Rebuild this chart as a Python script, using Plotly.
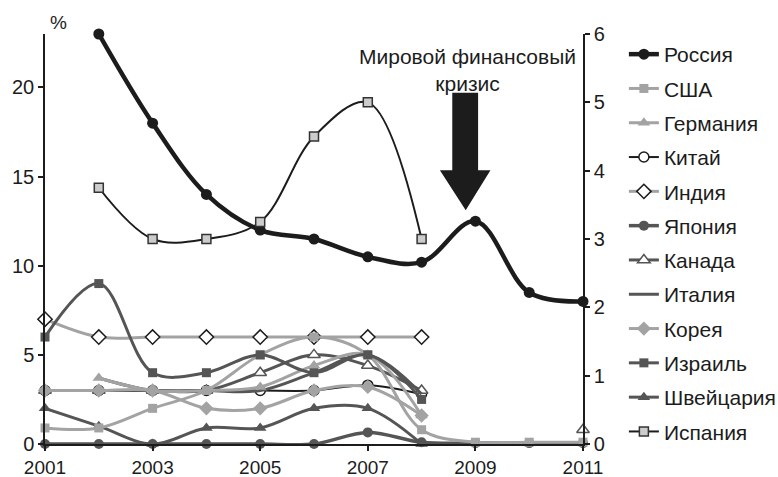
import plotly.graph_objects as go

# Years on the horizontal axis
years = list(range(2001, 2012))

# Left axis, %
russia = [None, 23, 18, 14, 12, 11.5, 10.5, 10.2, 12.5, 8.5, 8]
usa = [0.9, 0.9, 2, 3, 5, 6, 5, 0.8, 0.1, 0.1, 0.1]
germany = [None, 3.7, 3, 3, 3.2, 4.4, 5, 1.6, None, None, None]
china = [3, 3, 3, 3, 3, 3, 3.3, 2.8, None, None, None]
india = [7, 6, 6, 6, 6, 6, 6, 6, None, None, None]
japan = [0, 0, 0, 0, 0, 0, 0.65, 0.1, 0.05, 0.05, 0.05]
canada = [3, 3, 3, 3, 4, 5, 4.4, 3, None, None, 0.8]
italy = [None, 3.7, 3, 3, 3, 4, 5, 2.8, None, None, None]
korea = [3, 3, 3, 2, 2, 3, 3.2, 1.6, None, None, None]
israel = [6, 9, 4, 4, 5, 4, 5, 2.5, None, None, None]
switzerland = [2, 1, 0, 0.9, 0.9, 2, 2, 0, None, None, None]

# Right axis
spain = [None, 3.75, 3.0, 3.0, 3.25, 4.5, 5.0, 3.0, None, None, None]

left_ticks = [0, 5, 10, 15, 20]
right_ticks = [0, 1, 2, 3, 4, 5, 6]
year_ticks = [2001, 2003, 2005, 2007, 2009, 2011]

FONT = "Liberation Sans, Arial, sans-serif"
BLACK = "#1c1c1c"
DARK = "#555555"
LIGHT = "#a3a3a3"

fig = go.Figure()


def add(name, values, color, width, symbol=None, mfill=None, mline=None,
        msize=11, yaxis="y"):
    mode = "lines+markers" if symbol else "lines"
    marker = None
    if symbol:
        marker = dict(symbol=symbol, size=msize, color=mfill or color,
                      line=dict(color=mline or color, width=1.5 if mline else 0))
    fig.add_trace(go.Scatter(
        x=years, y=values, name=name, mode=mode, yaxis=yaxis,
        legendgroup=name, cliponaxis=False,
        line=dict(color=color, width=width, shape="spline"),
        marker=marker,
    ))


add("Китай", china, BLACK, 2, "circle", "white", BLACK, 10)
add("Индия", india, LIGHT, 3, "diamond", "white", BLACK, 11)
add("Япония", japan, DARK, 3.5, "circle", DARK, None, 10)
add("Канада", canada, DARK, 3, "triangle-up", "white", DARK, 11)
add("Италия", italy, DARK, 3)
add("Корея", korea, LIGHT, 3, "diamond", LIGHT, None, 11)
add("Германия", germany, LIGHT, 3, "triangle-up", LIGHT, None, 11)
add("Швейцария", switzerland, DARK, 3, "triangle-up", DARK, None, 11)
add("США", usa, LIGHT, 3, "square", LIGHT, None, 9)
add("Израиль", israel, DARK, 3, "square", DARK, None, 9)
add("Россия", russia, BLACK, 4.5, "circle", BLACK, None, 11)
add("Испания", spain, BLACK, 2, "square", "#cccccc", "#333333", 9, yaxis="y2")

legend_order = ["Россия", "США", "Германия", "Китай", "Индия", "Япония",
                "Канада", "Италия", "Корея", "Израиль", "Швейцария", "Испания"]
for tr in fig.data:
    tr.legendrank = legend_order.index(tr.name) + 1

axis_common = dict(
    showline=True, linecolor=BLACK, linewidth=1.5, ticks="outside",
    ticklen=5, tickwidth=1.5, tickcolor=BLACK, showgrid=False,
    zeroline=False, tickfont=dict(family=FONT, size=20, color=BLACK),
)

fig.update_layout(
    width=778, height=477,
    margin=dict(l=45, r=195, t=34, b=33, autoexpand=False),
    paper_bgcolor="white", plot_bgcolor="white",
    font=dict(family=FONT, size=20, color=BLACK),
    xaxis=dict(range=[2001, 2011], tickvals=year_ticks, **{**axis_common,
               "tickfont": dict(family=FONT, size=19, color=BLACK)}),
    yaxis=dict(range=[0, 23], tickvals=left_ticks, **axis_common),
    yaxis2=dict(range=[0, 6], tickvals=right_ticks, overlaying="y",
                side="right", **axis_common),
    legend=dict(x=1.076, xanchor="left", y=1.0, yanchor="top",
                traceorder="grouped", tracegroupgap=4,
                font=dict(family=FONT, size=21, color=BLACK),
                bgcolor="rgba(0,0,0,0)", itemwidth=30),
    showlegend=True,
)
try:
    fig.update_layout(legend_maxheight=477)
except ValueError:
    fig.update_layout(legend_tracegroupgap=2,
                      legend_font_size=20)

# Percent sign above the left axis
fig.add_annotation(x=0.026, y=1.029, xref="paper", yref="paper", text="%",
                   showarrow=False, xanchor="center", yanchor="middle",
                   font=dict(family=FONT, size=19, color=BLACK))

# Crisis label and block arrow
fig.add_annotation(x=2008.85, y=0.912, xref="x", yref="paper",
                   text="Мировой финансовый<br>кризис", showarrow=False,
                   xanchor="center", yanchor="middle", align="center",
                   font=dict(family=FONT, size=21, color=BLACK))
fig.add_shape(
    type="path", xref="x", yref="y",
    path=("M 2008.57 19.70 L 2009.05 19.70 L 2009.05 15.35 L 2009.28 15.35 "
          "L 2008.82 13.11 L 2008.34 15.35 L 2008.57 15.35 Z"),
    fillcolor=BLACK, line=dict(width=0),
)

fig.write_html("out.html")
